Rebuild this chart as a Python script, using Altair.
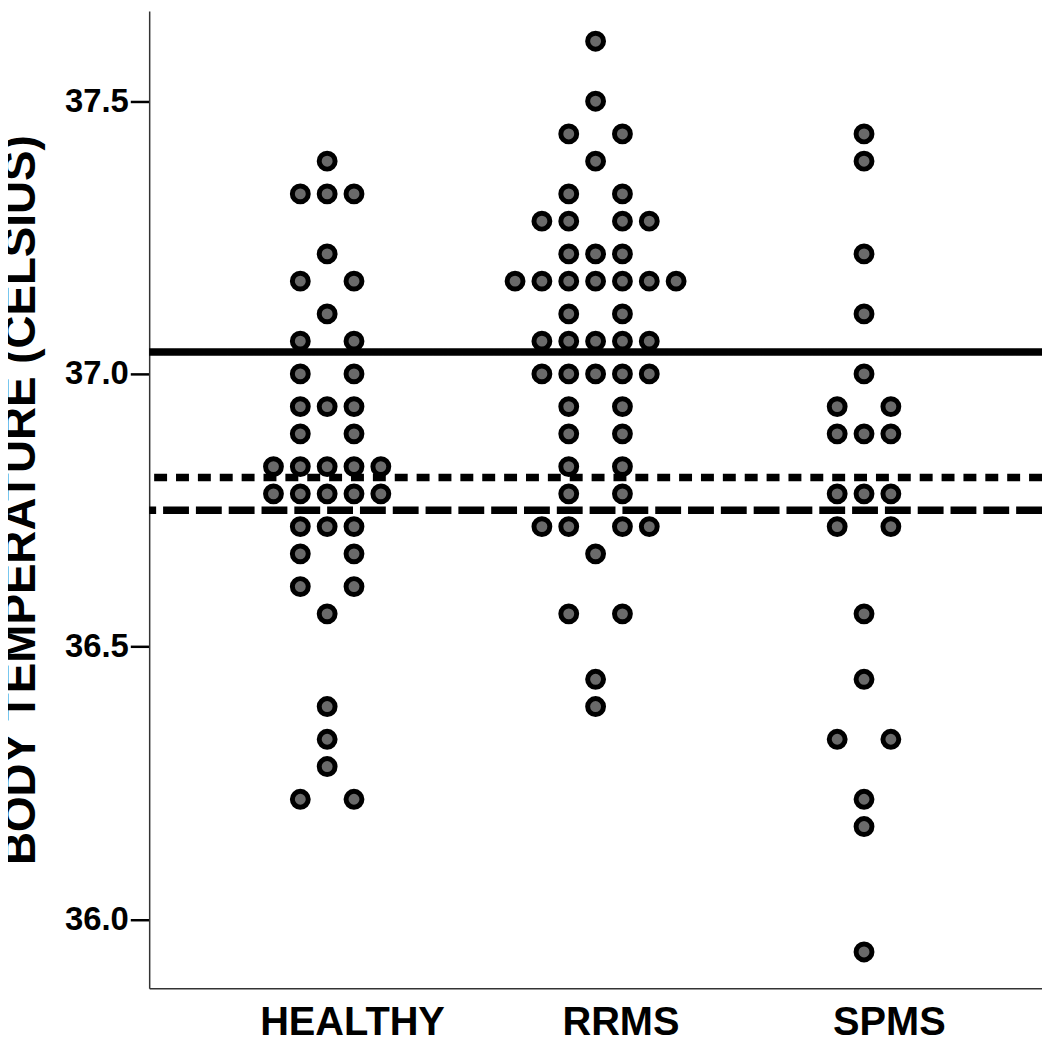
import json
import altair as alt
import pandas as pd

# ---- data ----
groups = ["HEALTHY", "RRMS", "SPMS"]

healthy_temps = [37.39, 37.33, 37.22, 37.17, 37.11, 37.06, 37.00, 36.94, 36.89, 36.83,
                 36.78, 36.72, 36.67, 36.61, 36.56, 36.39, 36.33, 36.28, 36.22]
healthy_counts = [1, 3, 1, 2, 1, 2, 2, 3, 2, 5, 5, 3, 2, 2, 1, 1, 1, 1, 2]

rrms_temps = [37.61, 37.50, 37.44, 37.39, 37.33, 37.28, 37.22, 37.17, 37.11, 37.06,
              37.00, 36.94, 36.89, 36.83, 36.78, 36.72, 36.67, 36.56, 36.44, 36.39]
rrms_counts = [1, 1, 2, 1, 2, 4, 3, 7, 2, 5, 5, 2, 2, 2, 2, 4, 1, 2, 1, 1]

spms_temps = [37.44, 37.39, 37.22, 37.11, 37.00, 36.94, 36.89, 36.78, 36.72, 36.56,
              36.44, 36.33, 36.22, 36.17, 35.94]
spms_counts = [1, 1, 1, 1, 1, 2, 3, 3, 2, 1, 1, 2, 1, 1, 1]

ref_values = [37.04, 36.81, 36.75]
ref_styles = ["solid", "dotted", "dashed"]

y_ticks = [36.0, 36.5, 37.0, 37.5]

# ---- build dot-plot table (symmetric stacking of equal values) ----
COL_STEP = 0.1
rows = []
for gi, (g, temps, counts) in enumerate(zip(groups,
                                            [healthy_temps, rrms_temps, spms_temps],
                                            [healthy_counts, rrms_counts, spms_counts])):
    for t, n in zip(temps, counts):
        half = n // 2
        if n % 2:
            cols = list(range(-half, half + 1))
        else:
            cols = [c for c in range(-half, half + 1) if c != 0]
        for c in cols:
            rows.append({"group": g, "xpos": gi + c * COL_STEP, "temp": t})
dots = pd.DataFrame(rows)
refs = pd.DataFrame({"value": ref_values, "style": ref_styles})

FONT = "Liberation Sans"
x_scale = alt.Scale(domain=[-0.663, 2.663], nice=False, zero=False)
y_scale = alt.Scale(domain=[35.8733, 37.6654], nice=False, zero=False)

label_expr = json.dumps(groups) + "[datum.value]"

points = alt.Chart(dots).mark_circle(
    size=255, fill="#6a6a6a", stroke="black", strokeWidth=5, opacity=1
).encode(
    x=alt.X("xpos:Q", scale=x_scale,
            axis=alt.Axis(values=[0, 1, 2], labelExpr=label_expr, title=None,
                          ticks=False, grid=False, labelFont=FONT, labelFontSize=40,
                          labelFontWeight="bold", labelColor="black", labelPadding=14,
                          labelOffset=25, labelLimit=0, domainColor="#333333",
                          domainWidth=1.5, labelFlush=False)),
    y=alt.Y("temp:Q", scale=y_scale,
            axis=alt.Axis(values=y_ticks, format=".1f", title="BODY TEMPERATURE (CELSIUS)",
                          grid=False, labelFont=FONT, labelFontSize=33,
                          labelFontWeight="bold", labelColor="black", labelPadding=2,
                          tickSize=19, tickWidth=2.5, tickColor="black",
                          domainColor="#333333", domainWidth=1.5, labelLimit=0,
                          titleFont=FONT, titleFontSize=46, titleFontWeight="bold",
                          titleColor="black", titlePadding=20, titleLimit=0,
                          labelFlush=False)),
)

lines = alt.Chart(refs).mark_rule(color="black", strokeWidth=7.5).encode(
    y=alt.Y("value:Q", scale=y_scale),
    strokeDash=alt.StrokeDash("style:N",
                              scale=alt.Scale(domain=ref_styles,
                                              range=[[1, 0], [13, 9], [26, 7]]),
                              legend=None),
)

chart = alt.layer(points, lines).properties(
    width=898, height=983,
    background="white",
    autosize=alt.AutoSizeParams(type="none"),
    padding={"left": 142, "top": 0, "right": 0, "bottom": 57},
).configure_view(stroke=None)

chart.save("out.html", embed_options={"renderer": "svg", "actions": False})
